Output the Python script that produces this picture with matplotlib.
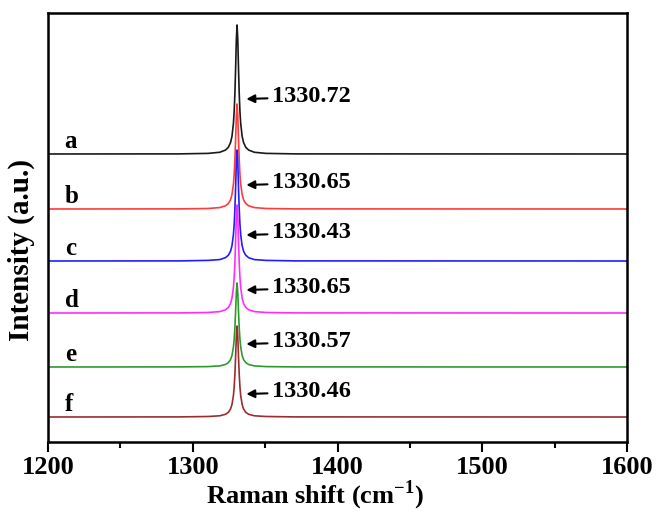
import numpy as np
import matplotlib
matplotlib.use('Agg')
import matplotlib.pyplot as plt
from matplotlib.ticker import MultipleLocator

# Raman shift points (cm-1), denser around the diamond peak
shift = [1200, 1290.6, 1310.6, 1318.6, 1322.6, 1324.6, 1326.1, 1327.1, 1328.1,
         1328.6, 1329.1, 1329.6, 1330.1, 1330.6, 1331.1, 1331.6, 1332.1, 1332.6,
         1333.1, 1334.1, 1335.1, 1336.6, 1338.6, 1342.6, 1350.6, 1370.6, 1600]

# stacked intensities (a.u., offset per sample), low-shift side up to the peak top;
# the high-shift side mirrors it
half_a = [288, 288.1, 288.6, 289.7, 291.9, 294.7, 299.4, 305.8, 318.8, 330.4, 348.1, 373.4, 402.4, 417]
half_b = [233, 233.1, 233.5, 234.4, 236.2, 238.5, 242.2, 247.5, 258.1, 267.5, 281.9, 302.5, 326.1, 338]
half_c = [181, 181.1, 181.6, 182.4, 184.3, 186.8, 190.8, 196.3, 207.5, 217.5, 232.7, 254.5, 279.5, 292]
half_d = [129, 129.1, 129.5, 130.4, 132.2, 134.6, 138.5, 143.9, 154.8, 164.5, 179.3, 200.5, 224.8, 237]
half_e = [75, 75.1, 75.4, 76.1, 77.5, 79.4, 82.4, 86.6, 95.1, 102.6, 114.1, 130.6, 149.5, 159]
half_f = [25, 25.1, 25.5, 26.2, 27.7, 29.7, 33.0, 37.6, 46.7, 54.9, 67.4, 85.2, 105.7, 116]

labels = ['a', 'b', 'c', 'd', 'e', 'f']
peak_labels = ['1330.72', '1330.65', '1330.43', '1330.65', '1330.57', '1330.46']
label_y = [345, 259, 209, 154, 100, 50]
colors = ['#1a1a1a', '#ff3b3b', '#1f1fff', '#ff2cff', '#2e9a2e', '#9a2e2e']

plt.rcParams['font.family'] = 'Liberation Serif'
plt.rcParams['font.weight'] = 'bold'
plt.rcParams['mathtext.fontset'] = 'custom'
plt.rcParams['mathtext.rm'] = 'Liberation Serif:bold'
plt.rcParams['mathtext.bf'] = 'Liberation Serif:bold'

fig = plt.figure(figsize=(6.56, 5.13), dpi=100)
ax = fig.add_axes([0.0732, 0.1384, 0.8826, 0.8363])

for half, col, lab in zip([half_a, half_b, half_c, half_d, half_e, half_f], colors, labels):
    spec = half + half[-2::-1]
    ax.plot(shift, spec, color=col, lw=1.2)
    ax.text(1211.5, spec[0] + 1, lab, fontsize=18, fontweight='bold',
            ha='left', va='bottom')

for txt, y in zip(peak_labels, label_y):
    ax.annotate(txt, xy=(1337.0, y - 2), xytext=(1354.5, y),
                fontsize=17.5, fontweight='bold', va='center', ha='left',
                arrowprops=dict(arrowstyle='-|>', color='black', lw=1.5,
                                mutation_scale=12, shrinkA=1, shrinkB=0))

ax.set_xlim(1200, 1600)
ax.set_ylim(0, 429)
ax.xaxis.set_major_locator(MultipleLocator(100))
ax.xaxis.set_minor_locator(MultipleLocator(50))
ax.tick_params(axis='x', which='major', direction='out', length=7, width=1.5,
               labelsize=19, pad=3, top=False)
ax.tick_params(axis='x', which='minor', direction='out', length=4, width=1.5,
               top=False)
ax.set_yticks([])
for sp in ax.spines.values():
    sp.set_linewidth(1.8)

ax.set_xlabel(r'Raman shift (cm$^{-1}$)', fontsize=19, fontweight='bold')
ax.xaxis.set_label_coords(0.461, -0.085)
ax.set_ylabel('Intensity (a.u.)', fontsize=21, fontweight='bold')
ax.yaxis.set_label_coords(-0.022, 0.447)

fig.savefig('out.png', dpi=100)
